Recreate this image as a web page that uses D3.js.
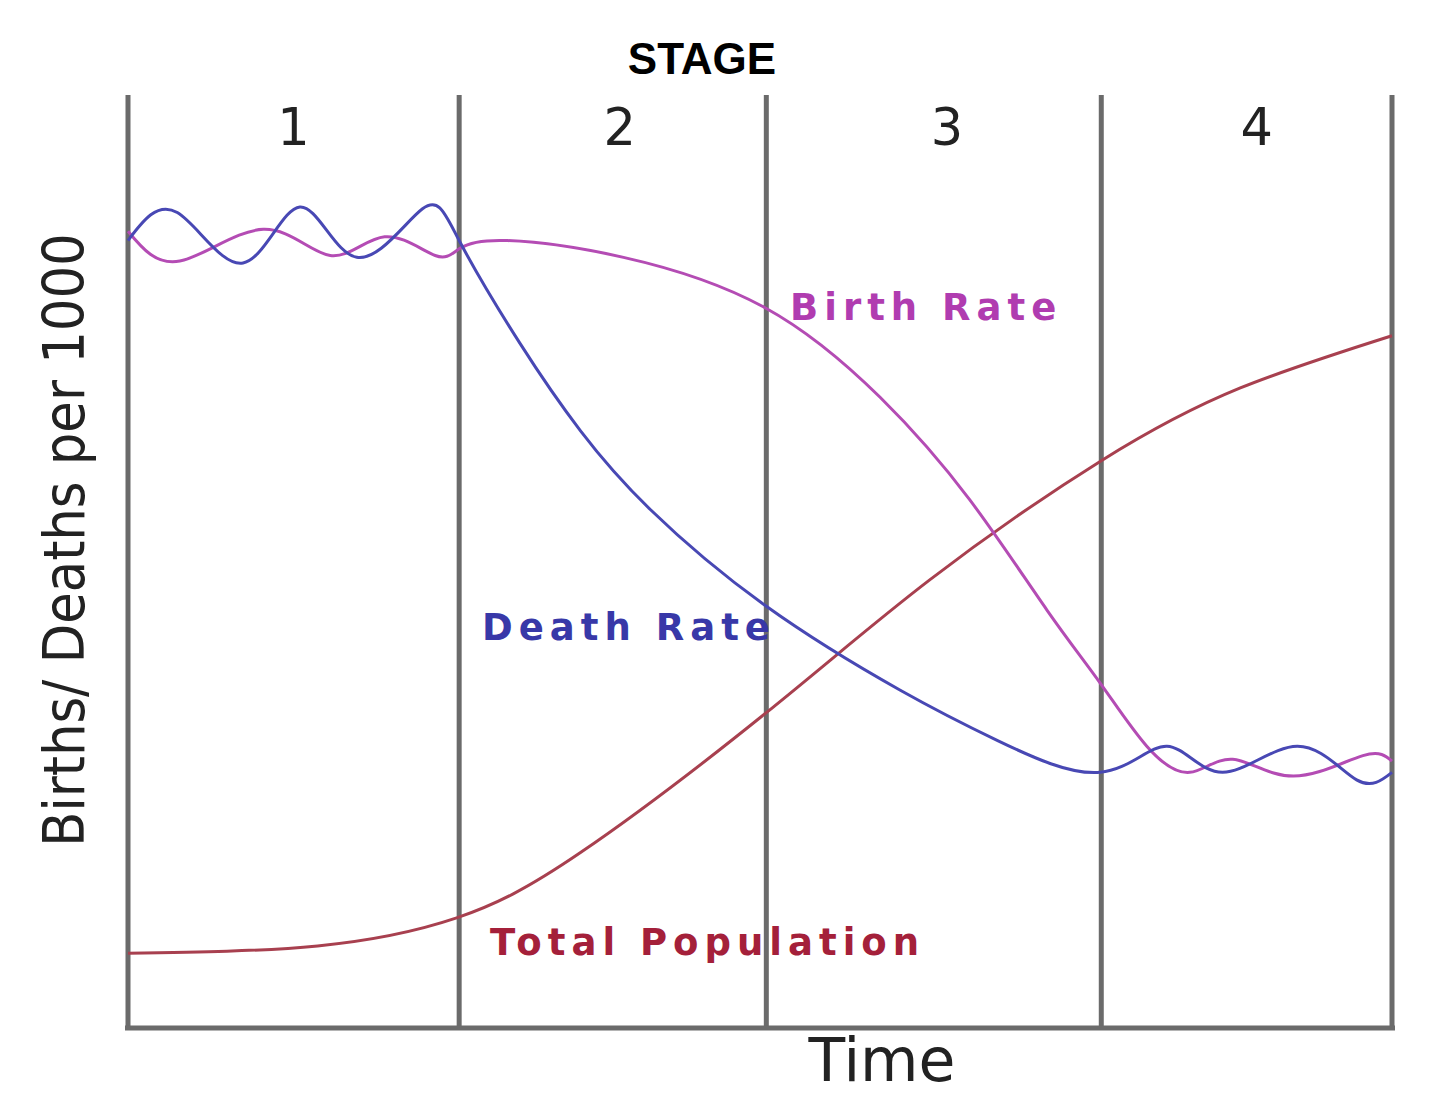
<!DOCTYPE html>
<html>
<head>
<meta charset="utf-8">
<script src="https://cdn.jsdelivr.net/npm/d3@7.9.0/dist/d3.min.js"></script>
<style>
  html, body { margin: 0; padding: 0; background: #fff; }
  svg { display: block; }
</style>
</head>
<body>
<svg id="chart"></svg>
<script>
// Stage boundaries on the time axis (0..100)
const stageBounds = [0, 26.2, 50.5, 77, 100];
const stageLabels = ['1', '2', '3', '4'];
const stageLabelPos = [13.1, 38.9, 64.8, 89.3];

// [time, per 1000]
const deathRate = [
  [0, 42.2], [3.9, 43.7], [9.1, 41.0], [13.6, 44.0], [18.1, 41.3], [23.3, 43.9],
  [26.2, 42.2], [31.0, 36.7], [35.8, 32.0], [41.3, 27.8], [50.5, 22.6], [61.1, 18.1],
  [68.8, 15.4], [76.9, 13.7], [82.2, 15.1], [86.6, 13.7], [92.5, 15.1], [97.2, 13.3],
  [100, 13.7]
];

const birthRate = [
  [0, 42.7], [4.1, 41.1], [10.7, 42.8], [16.0, 41.4], [20.3, 42.4], [24.3, 41.4],
  [26.3, 41.8], [30.0, 42.2], [39.2, 41.3], [50.4, 38.6], [59.5, 33.8], [66.6, 28.3],
  [72.7, 22.4], [76.9, 18.5], [80.6, 15.1], [84.0, 13.7], [87.4, 14.4], [92.2, 13.5],
  [97.7, 14.6], [100, 14.3]
];

const totalPopulation = [
  [0, 4.0], [15.0, 4.4], [26.0, 5.9], [35.8, 9.4], [50.5, 16.9], [63.4, 24.0],
  [77.0, 30.4], [88.0, 34.3], [100, 37.1]
];

const width = 1440;
const height = 1103;

const svg = d3.select('#chart')
  .attr('width', width)
  .attr('height', height);

const x = d3.scaleLinear().domain([0, 100]).range([128, 1392]);
const y = d3.scaleLinear().domain([0, 50]).range([1028, 95]);

// stage dividers
svg.append('g')
  .selectAll('line')
  .data(stageBounds)
  .join('line')
  .attr('x1', d => x(d))
  .attr('x2', d => x(d))
  .attr('y1', y(50))
  .attr('y2', y(0))
  .attr('stroke', '#6b6b6b')
  .attr('stroke-width', 5);

// bottom axis line
svg.append('line')
  .attr('x1', x(0) - 3)
  .attr('x2', x(100) + 3)
  .attr('y1', y(0))
  .attr('y2', y(0))
  .attr('stroke', '#6b6b6b')
  .attr('stroke-width', 5);

// stage numbers
svg.append('g')
  .selectAll('text')
  .data(stageLabels)
  .join('text')
  .attr('x', (d, i) => x(stageLabelPos[i]))
  .attr('y', 145)
  .attr('text-anchor', 'middle')
  .attr('font-family', 'DejaVu Sans')
  .attr('font-size', 51)
  .attr('fill', '#222')
  .text(d => d);

svg.append('text')
  .attr('x', 702)
  .attr('y', 74)
  .attr('text-anchor', 'middle')
  .attr('font-family', 'Liberation Sans, Arial, sans-serif')
  .attr('font-weight', 'bold')
  .attr('font-size', 44)
  .attr('fill', '#000')
  .text('STAGE');

const line = d3.line()
  .x(d => x(d[0]))
  .y(d => y(d[1]))
  .curve(d3.curveNatural);

const series = [
  { data: totalPopulation, color: '#a8404f' },
  { data: birthRate, color: '#b44cb4' },
  { data: deathRate, color: '#4848b4' }
];

svg.append('g')
  .selectAll('path')
  .data(series)
  .join('path')
  .attr('d', d => line(d.data))
  .attr('fill', 'none')
  .attr('stroke', d => d.color)
  .attr('stroke-width', 3);

// series labels
const labels = [
  { text: 'Birth Rate', x: 790, y: 320, color: '#b03cb0' },
  { text: 'Death Rate', x: 482, y: 640, color: '#3838a8' },
  { text: 'Total Population', x: 490, y: 955, color: '#a4203a' }
];

svg.append('g')
  .selectAll('text')
  .data(labels)
  .join('text')
  .attr('x', d => d.x)
  .attr('y', d => d.y)
  .attr('font-family', 'DejaVu Sans')
  .attr('font-weight', 'bold')
  .attr('font-size', 37)
  .attr('letter-spacing', 6)
  .attr('fill', d => d.color)
  .text(d => d.text);

// axis titles
svg.append('text')
  .attr('transform', 'translate(84, 540) rotate(-90)')
  .attr('text-anchor', 'middle')
  .attr('font-family', 'DejaVu Sans Condensed, DejaVu Sans')
  .attr('font-size', 57)
  .attr('fill', '#222')
  .text('Births/ Deaths per 1000');

svg.append('text')
  .attr('x', 882)
  .attr('y', 1081)
  .attr('text-anchor', 'middle')
  .attr('font-family', 'DejaVu Sans')
  .attr('font-size', 60)
  .attr('fill', '#222')
  .text('Time');
</script>
</body>
</html>
